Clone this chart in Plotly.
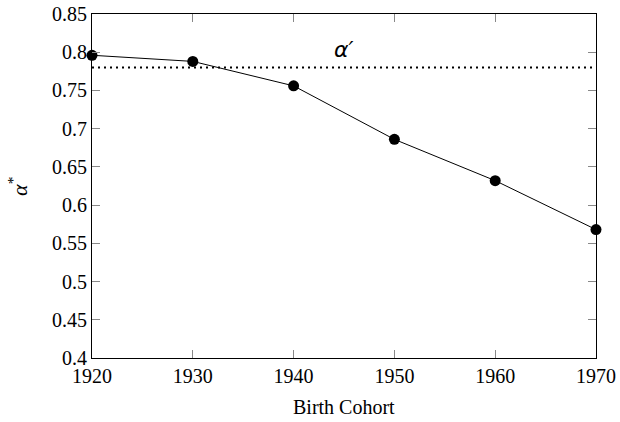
import plotly.graph_objects as go

cohorts = [1920, 1930, 1940, 1950, 1960, 1970]
alpha_star = [0.796, 0.788, 0.756, 0.686, 0.632, 0.568]
alpha_prime = 0.78
x_ticks = [1920, 1930, 1940, 1950, 1960, 1970]
y_ticks = [0.4, 0.45, 0.5, 0.55, 0.6, 0.65, 0.7, 0.75, 0.8, 0.85]
y_ticklabels = ["0.4", "0.45", "0.5", "0.55", "0.6", "0.65", "0.7", "0.75", "0.8", "0.85"]

serif = "Liberation Serif"

fig = go.Figure()
fig.add_trace(go.Scatter(
    x=[cohorts[0], cohorts[-1]], y=[alpha_prime, alpha_prime],
    mode="lines", line=dict(color="black", width=1.8, dash="2px,4px"),
    hoverinfo="skip", showlegend=False))
fig.add_trace(go.Scatter(
    x=cohorts, y=alpha_star, mode="lines+markers",
    line=dict(color="black", width=1),
    marker=dict(color="black", size=11),
    cliponaxis=False, showlegend=False))

axis_common = dict(
    showgrid=False, zeroline=False, showline=True, linecolor="black", linewidth=1.2,
    mirror="ticks", ticks="inside", ticklen=8, tickcolor="#888888", tickwidth=1,
    automargin=False,
    tickfont=dict(family=serif, size=20, color="black"))

fig.update_xaxes(range=[1920, 1970], tickvals=x_ticks, ticktext=[str(v) for v in x_ticks], **axis_common)
fig.update_yaxes(range=[0.4, 0.85], tickvals=y_ticks, ticktext=y_ticklabels, **axis_common)

fig.add_annotation(x=0.5, xref="paper", y=-0.143, yref="paper", yanchor="middle",
                   text="Birth Cohort", showarrow=False,
                   font=dict(family=serif, size=20, color="black"))
fig.add_annotation(x=1945, y=0.803, text="<i>α′</i>", showarrow=False,
                   font=dict(family="DejaVu Sans", size=22, color="black"))
fig.add_annotation(x=-0.147, xref="paper", y=0.5, yref="paper", text="<i>α</i><sup>*</sup>",
                   textangle=-90, showarrow=False, xanchor="center", yanchor="middle",
                   font=dict(family=serif, size=22, color="black"))

fig.update_layout(
    template="none",
    width=620, height=422,
    margin=dict(l=92, r=24, t=14, b=64),
    paper_bgcolor="white", plot_bgcolor="white")

# remove the browser's default 8px body margin so the figure fills the window exactly
fig.write_html("out.html", config={"displayModeBar": False},
               post_script="document.body.style.margin='0';")
